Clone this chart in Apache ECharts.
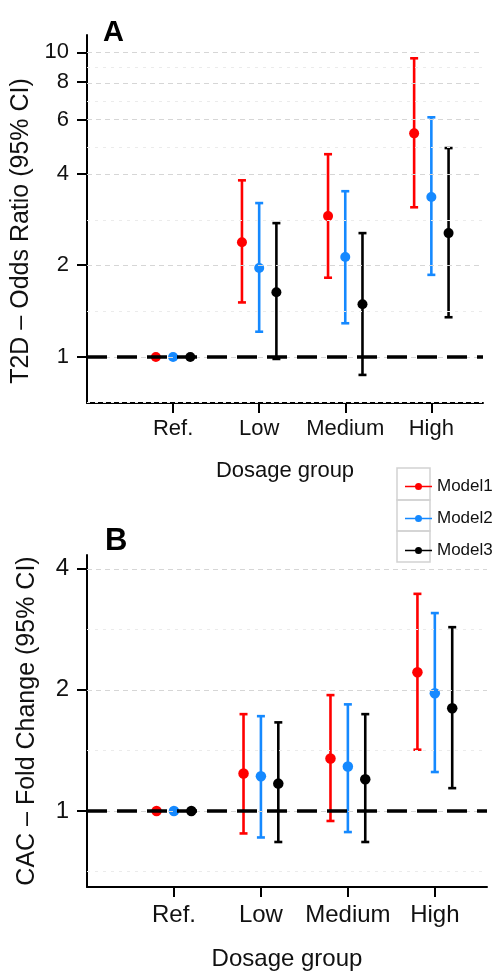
<!DOCTYPE html>
<html>
<head>
<meta charset="utf-8">
<script src="https://cdn.jsdelivr.net/npm/echarts@6/dist/echarts.min.js"></script>
<style>
  html, body { margin: 0; padding: 0; background: #fff; }
  #chart { width: 493px; height: 971px; }
</style>
</head>
<body>
<div id="chart"></div>
<script>
// categories and models
var categories = ['Ref.', 'Low', 'Medium', 'High'];
var models = ['Model1', 'Model2', 'Model3'];

// panel A: T2D odds ratio, [estimate, lower, upper] per dosage group
var t2dModel1 = [[1, 1, 1], [2.38, 1.51, 3.80], [2.90, 1.82, 4.63], [5.42, 3.10, 9.56]];
var t2dModel2 = [[1, 1, 1], [1.96, 1.21, 3.20], [2.13, 1.29, 3.50], [3.35, 1.86, 6.12]];
var t2dModel3 = [[1, 1, 1], [1.63, 0.985, 2.75], [1.49, 0.873, 2.55], [2.55, 1.35, 4.85]];

// panel B: CAC fold change, [estimate, lower, upper]
var cacModel1 = [[1, 1, 1], [1.24, 0.88, 1.74], [1.35, 0.945, 1.94], [2.21, 1.42, 3.46]];
var cacModel2 = [[1, 1, 1], [1.22, 0.86, 1.72], [1.29, 0.887, 1.84], [1.96, 1.25, 3.10]];
var cacModel3 = [[1, 1, 1], [1.17, 0.838, 1.66], [1.20, 0.838, 1.74], [1.80, 1.14, 2.86]];

// y ticks (log scale) and minor grid positions
var t2dTicks = [1, 2, 4, 6, 8, 10];
var t2dMinor = [0.707, 1.414, 2.83, 4.9, 6.93, 8.94];
var cacTicks = [1, 2, 4];
var cacMinor = [0.707, 1.414, 2.83];

var colors = ['#ff0000', '#1589ff', '#000000'];
var FONT = 'Liberation Sans, Arial, Helvetica, sans-serif';
var dodge = [-0.2, 0, 0.2];

var chart = echarts.init(document.getElementById('chart'));

function lg(v) { return Math.log10(v); }

function errorSeries(name, data, color, gi) {
    var rows = [];
    data.forEach(function (d, i) {
        if (d[2] > d[1]) rows.push([i + 1 + dodge[models.indexOf(name)], lg(d[1]), lg(d[2])]);
    });
    return {
        type: 'custom',
        name: name,
        xAxisIndex: gi, yAxisIndex: gi,
        z: 3,
        itemStyle: { color: color },
        encode: { x: 0, y: [1, 2] },
        data: rows,
        renderItem: function (params, api) {
            var lo = api.coord([api.value(0), api.value(1)]);
            var hi = api.coord([api.value(0), api.value(2)]);
            var hw = 4;
            var st = { stroke: color, lineWidth: 2.6 };
            return {
                type: 'group',
                children: [
                    { type: 'line', shape: { x1: lo[0], y1: lo[1], x2: hi[0], y2: hi[1] }, style: st },
                    { type: 'line', shape: { x1: lo[0] - hw, y1: lo[1], x2: lo[0] + hw, y2: lo[1] }, style: st },
                    { type: 'line', shape: { x1: hi[0] - hw, y1: hi[1], x2: hi[0] + hw, y2: hi[1] }, style: st }
                ]
            };
        }
    };
}

function pointSeries(name, data, color, gi, size) {
    return {
        type: 'scatter',
        name: name,
        xAxisIndex: gi, yAxisIndex: gi,
        z: 4,
        symbolSize: size,
        itemStyle: { color: color, opacity: 1 },
        data: data.map(function (d, i) { return [i + 1 + dodge[models.indexOf(name)], lg(d[0])]; })
    };
}

function gridSeries(gi, ticks, minor) {
    var lines = [];
    minor.forEach(function (v) {
        lines.push({ yAxis: lg(v), lineStyle: { color: '#ebebeb', width: 1, type: [3, 5] } });
    });
    ticks.forEach(function (v) {
        lines.push({ yAxis: lg(v), lineStyle: { color: '#d6d6d6', width: 1, type: [5, 4] } });
    });
    return {
        type: 'line', xAxisIndex: gi, yAxisIndex: gi, data: [], z: 1, silent: true,
        markLine: { silent: true, symbol: 'none', label: { show: false }, data: lines, animation: false }
    };
}

function refSeries(gi) {
    return {
        type: 'line', xAxisIndex: gi, yAxisIndex: gi, data: [], z: 2, silent: true,
        markLine: {
            silent: true, symbol: 'none', label: { show: false }, animation: false,
            data: [{ yAxis: 0, lineStyle: { color: '#000', width: 3.5, type: [20, 10] } }]
        }
    };
}

function xAxisFor(gi, fontSize, margin, nameGap) {
    return {
        type: 'value', gridIndex: gi, min: 0, max: 4.6,
        name: 'Dosage group', nameLocation: 'middle', nameGap: nameGap,
        nameTextStyle: { fontSize: fontSize, color: '#111', fontFamily: FONT },
        axisLine: { show: true, onZero: false, lineStyle: { color: '#000', width: 2 } },
        axisTick: { show: true, length: 10, lineStyle: { color: '#000', width: 2 }, customValues: [1, 2, 3, 4] },
        axisLabel: {
            customValues: [1, 2, 3, 4], margin: margin, fontSize: fontSize, color: '#111', fontFamily: FONT,
            formatter: function (v) { return categories[Math.round(v) - 1]; }
        },
        splitLine: { show: false }
    };
}

function yAxisFor(gi, ticks, range, title, fontSize, nameGap, shift) {
    return {
        type: 'value', gridIndex: gi, min: lg(range[0]), max: lg(range[1]),
        name: title, nameLocation: 'middle', nameGap: nameGap,
        nameTextStyle: { fontSize: 25, color: '#111', fontFamily: FONT, padding: [0, shift, 0, 0] },
        axisLine: { show: true, onZero: false, lineStyle: { color: '#000', width: 2 } },
        axisTick: { show: true, length: 10, lineStyle: { color: '#000', width: 2 }, customValues: ticks.map(lg) },
        axisLabel: {
            customValues: ticks.map(lg), margin: 18, fontSize: fontSize, color: '#111', fontFamily: FONT,
            formatter: function (v) { return String(Math.round(Math.pow(10, v))); }
        },
        splitLine: { show: false }
    };
}

var series = [gridSeries(0, t2dTicks, t2dMinor), refSeries(0), gridSeries(1, cacTicks, cacMinor), refSeries(1)];
var t2d = [t2dModel1, t2dModel2, t2dModel3];
var cac = [cacModel1, cacModel2, cacModel3];
models.forEach(function (m, k) {
    series.push(errorSeries(m, t2d[k], colors[k], 0));
    series.push(pointSeries(m, t2d[k], colors[k], 0, 10));
    series.push(errorSeries(m, cac[k], colors[k], 1));
    series.push(pointSeries(m, cac[k], colors[k], 1, 10.5));
});

var keyIcon = 'path://M0,3.2H27V4.8H0Z M10,4A3.5,3.5 0 1 1 17,4A3.5,3.5 0 1 1 10,4Z';

var option = {
    animation: false,
    backgroundColor: '#fff',
    textStyle: { fontFamily: FONT },
    title: [
        { text: 'A', left: 98, top: 13, textStyle: { fontSize: 29, fontWeight: 'bold', color: '#000', fontFamily: FONT } },
        { text: 'B', left: 100, top: 521, textStyle: { fontSize: 31, fontWeight: 'bold', color: '#000', fontFamily: FONT } }
    ],
    legend: {
        orient: 'vertical', left: 400, top: 473,
        itemWidth: 27, itemHeight: 14, itemGap: 15,
        textStyle: { fontSize: 17, color: '#111', fontFamily: FONT },
        data: models.map(function (m) { return { name: m, icon: keyIcon }; })
    },
    graphic: [
        { type: 'rect', shape: { x: 397, y: 468, width: 33, height: 32 }, style: { fill: 'none', stroke: '#d2d2d2', lineWidth: 1.5 } },
        { type: 'rect', shape: { x: 397, y: 500, width: 33, height: 31 }, style: { fill: 'none', stroke: '#d2d2d2', lineWidth: 1.5 } },
        { type: 'rect', shape: { x: 397, y: 531, width: 33, height: 31 }, style: { fill: 'none', stroke: '#d2d2d2', lineWidth: 1.5 } }
    ],
    grid: [
        { left: 87, top: 35, right: 10, height: 368, outerBoundsMode: 'none', containLabel: false },
        { left: 87, top: 555, right: 6, height: 332, outerBoundsMode: 'none', containLabel: false }
    ],
    xAxis: [xAxisFor(0, 22, 15, 57), xAxisFor(1, 24, 16, 60)],
    yAxis: [
        yAxisFor(0, t2dTicks, [0.706, 11.4], 'T2D \u2013 Odds Ratio (95% CI)', 22, 47, 24),
        yAxisFor(1, cacTicks, [0.648, 4.32], 'CAC \u2013 Fold Change (95% CI)', 24, 47, 0)
    ],
    series: series
};
chart.setOption(option);
</script>
</body>
</html>
